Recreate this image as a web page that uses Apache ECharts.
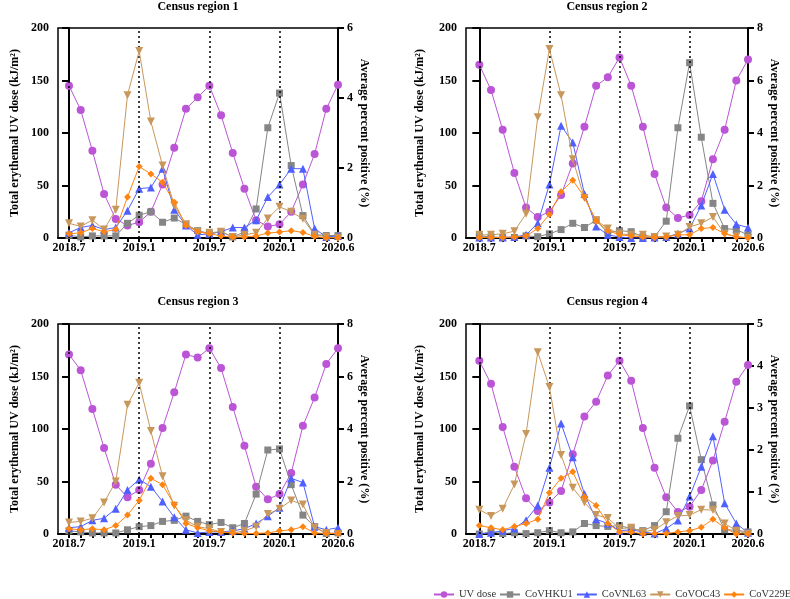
<!DOCTYPE html>
<html><head><meta charset="utf-8">
<script src="https://cdn.jsdelivr.net/npm/echarts@6/dist/echarts.min.js"></script>
<style>html,body{margin:0;padding:0;background:#fff}#c{width:790px;height:599px}</style>
</head><body><div id="c"></div>
<script>
// ---- data ----
const tickLabels = ["2018.7","2019.1","2019.7","2020.1","2020.6"];
const tickLabelIdx = [0,6,12,18,23];
const dottedIdx = [0,6,12,18];
const panelTitles = ["Census region 1","Census region 2","Census region 3","Census region 4"];
const seriesNames = ["UV dose","CoVHKU1","CoVNL63","CoVOC43","CoV229E"];
const rightMax = [6,8,8,5];
const rightInterval = [2,2,2,1];

// Census region 1
const uv1   = [145,122,83,42,18,12,15,25,51,86,123,134,145,117,81,47,17,11,13,25,51,80,123,146];
const hku1  = [0.08,0.03,0.06,0.06,0.06,0.42,0.65,0.75,0.45,0.57,0.39,0.21,0.12,0.18,0.03,0.17,0.83,3.15,4.14,2.07,0.64,0.1,0.07,0.07];
const nl1   = [0.15,0.3,0.36,0.24,0.3,0.78,1.41,1.44,1.98,0.81,0.36,0.09,0.12,0.18,0.3,0.3,0.51,1.17,1.53,1.98,1.98,0.27,0.03,0.06];
const oc1   = [0.42,0.33,0.51,0.24,0.81,4.08,5.34,3.33,2.07,0.93,0.39,0.18,0.15,0.18,0.03,0.09,0.15,0.56,0.89,0.75,0.55,0.09,0.03,0];
const e1    = [0.12,0.15,0.27,0.18,0.24,1.17,2.04,1.83,1.59,1.02,0.36,0.18,0.12,0.06,0.02,0.03,0.06,0.14,0.17,0.21,0.16,0.04,0,0];
// Census region 2
const uv2   = [165,141,103,62,29,20,25,41,71,106,145,153,172,145,106,61,29,19,22,35,75,103,150,170];
const hku2  = [0.08,0.04,0.02,0.02,0.08,0.05,0.16,0.32,0.56,0.4,0.68,0.2,0.28,0.24,0.04,0.04,0.64,4.2,6.68,3.84,1.32,0.36,0.32,0.12];
const nl2   = [0.02,0.02,0.02,0.04,0.12,0.56,2.04,4.28,3.64,1.68,0.44,0.12,0.04,0,0,0.02,0.04,0.16,0.36,1.24,2.44,1.08,0.52,0.4];
const oc2   = [0.12,0.12,0.16,0.26,0.92,4.6,7.2,5.44,3.0,1.52,0.68,0.36,0.16,0.12,0.12,0.04,0.06,0.12,0.42,0.56,0.8,0.16,0.06,0];
const e2    = [0.02,0.02,0.02,0.04,0.08,0.36,0.9,1.76,2.2,1.56,0.64,0.28,0.12,0.08,0.04,0.02,0.04,0.12,0.12,0.36,0.4,0.16,0.04,0];
// Census region 3
const uv3   = [171,156,119,82,47,35,42,67,101,135,171,168,177,158,121,84,45,33,38,58,103,130,162,177];
const hku3  = [0.12,0.08,0.04,0.04,0.04,0.16,0.28,0.32,0.48,0.52,0.68,0.48,0.36,0.44,0.24,0.4,1.52,3.2,3.24,1.88,0.72,0.28,0.02,0.04];
const nl3   = [0.24,0.28,0.52,0.6,0.96,1.68,2.08,1.8,1.24,0.64,0.16,0.04,0.08,0.08,0.12,0.2,0.4,0.68,1.0,2.12,1.96,0.28,0.16,0.24];
const oc3   = [0.44,0.48,0.6,1.2,2.0,4.92,5.76,3.92,2.2,1.08,0.52,0.28,0.2,0.08,0.04,0.12,0.28,0.76,0.96,1.28,1.12,0.24,0.04,0];
const e3    = [0.2,0.16,0.2,0.16,0.32,0.72,1.28,2.12,1.88,1.12,0.4,0.24,0.12,0.08,0.04,0.02,0.02,0.04,0.12,0.16,0.28,0.04,0.02,0.02];
// Census region 4
const uv4   = [165,143,102,64,34,22,30,41,76,112,126,151,165,146,101,63,35,21,26,42,70,107,145,161];
const hku4  = [0,0.05,0.01,0.03,0.01,0.03,0.08,0.03,0.05,0.25,0.2,0.18,0.2,0.13,0.08,0.2,0.53,2.28,3.05,1.77,0.69,0.1,0.09,0.05];
const nl4   = [0,0.03,0.08,0.13,0.33,0.68,1.58,2.63,1.83,0.95,0.35,0.25,0.08,0.1,0.05,0.01,0.13,0.32,0.89,1.6,2.33,0.73,0.25,0.03];
const oc4   = [0.58,0.43,0.6,1.18,2.38,4.33,3.5,1.88,1.1,0.75,0.45,0.38,0.13,0.15,0.05,0.1,0.28,0.43,0.45,0.58,0.57,0.25,0.08,0];
const e4    = [0.2,0.15,0.1,0.18,0.25,0.35,0.98,1.33,1.48,0.88,0.68,0.25,0.05,0.05,0,0.01,0.01,0.05,0.08,0.16,0.35,0.15,0,0];

const panels = [
  [uv1,hku1,nl1,oc1,e1],
  [uv2,hku2,nl2,oc2,e2],
  [uv3,hku3,nl3,oc3,e3],
  [uv4,hku4,nl4,oc4,e4]
];

// ---- styles ----
const colors = ["#bb55d6","#858585","#5060ff","#c8975c","#ff8411"];
const symbols = ["circle","rect","triangle","path://M0,0 L10,0 L5,9 Z","diamond"];
const symbolSizes = [8,7,8,8,7];
const grids = [
  {left:58, top:28, width:280, height:210},
  {left:466, top:28, width:282, height:210},
  {left:58, top:324, width:280, height:210},
  {left:466, top:324, width:282, height:210}
];
const xMins = [-0.94,-1.14,-0.94,-1.14];
const leftNameGap = [37,40,37,40];
const FONT = "Liberation Serif";
const monthTicks = [];
for (let i = 0; i < 24; i++) monthTicks.push(i);

const option = {
  backgroundColor:'#fff',
  animation:false,
  title: panelTitles.map((t,i)=>({
    text:t, left: grids[i].left + grids[i].width/2, top: i<2 ? 1 : 296, textAlign:'center', padding:0,
    textStyle:{fontFamily:FONT,fontWeight:'bold',fontSize:12,color:'#000'}
  })),
  legend:{
    left:433, top:589, width:420, padding:0, itemWidth:20, itemHeight:8, itemGap:3,
    textStyle:{fontFamily:FONT,fontSize:10.5,color:'#333'},
    data: seriesNames
  },
  grid: grids.map(g=>Object.assign({show:true,borderColor:'#000',borderWidth:1.5,backgroundColor:'transparent'},g)),
  xAxis: grids.map((g,i)=>({
    type:'value', gridIndex:i, min:xMins[i], max:23,
    splitLine:{show:false},
    axisLine:{show:true,lineStyle:{color:'#000',width:2}},
    axisTick:{show:true,customValues:monthTicks,length:4,lineStyle:{color:'#000',width:2}},
    axisLabel:{customValues:tickLabelIdx,margin:4,fontFamily:FONT,fontWeight:'bold',fontSize:12,color:'#000',
      formatter:v=>{const k=tickLabelIdx.indexOf(Math.round(v));return k>=0?tickLabels[k]:'';}}
  })),
  yAxis: [],
  series: []
};

grids.forEach((g,i)=>{
  option.yAxis.push({
    type:'value', gridIndex:i, position:'left', min:0, max:200, interval:50,
    name:'Total erythemal UV dose (kJ/m²)', nameLocation:'middle', nameGap:leftNameGap[i], nameRotate:90,
    nameTextStyle:{fontFamily:FONT,fontWeight:'bold',fontSize:12,color:'#000'},
    splitLine:{show:false},
    axisLine:{show:true,lineStyle:{color:'#000',width:2}},
    axisTick:{show:true,length:7,lineStyle:{color:'#000',width:2}},
    axisLabel:{margin:9,fontFamily:FONT,fontWeight:'bold',fontSize:12,color:'#000'}
  });
  option.yAxis.push({
    type:'value', gridIndex:i, position:'right', min:0, max:rightMax[i], interval:rightInterval[i],
    name:'Average percent positive (%)', nameLocation:'middle', nameGap:20, nameRotate:-90,
    nameTextStyle:{fontFamily:FONT,fontWeight:'bold',fontSize:12,color:'#000'},
    splitLine:{show:false},
    axisLine:{show:true,lineStyle:{color:'#000',width:2}},
    axisTick:{show:true,length:6,lineStyle:{color:'#000',width:2}},
    axisLabel:{margin:9,fontFamily:FONT,fontWeight:'bold',fontSize:12,color:'#000'}
  });
  panels[i].forEach((arr,s)=>{
    const ser = {
      name:seriesNames[s], type:'line', xAxisIndex:i, yAxisIndex: s===0 ? 2*i : 2*i+1,
      data: arr.map((v,k)=>[k,v]),
      symbol:symbols[s], symbolSize:symbolSizes[s], showSymbol:true,
      lineStyle:{color:colors[s],width:1},
      itemStyle:{color:colors[s]},
      z: 2+s
    };
    if (s===0) {
      ser.markLine = {
        silent:true, symbol:['none','none'], label:{show:false},
        lineStyle:{color:'#000',type:[2,3],width:1.5},
        data: dottedIdx.map(v=>({xAxis:v}))
      };
    }
    option.series.push(ser);
  });
});

const chart = echarts.init(document.getElementById('c'), null, {renderer:'canvas'});
chart.setOption(option);
</script>
</body></html>
